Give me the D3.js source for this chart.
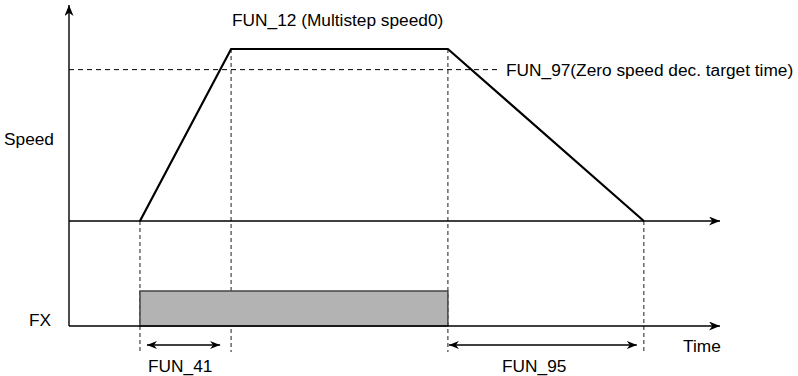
<!DOCTYPE html>
<html><head><meta charset="utf-8">
<script src="https://cdn.jsdelivr.net/npm/d3@7"></script>
<style>body{margin:0;background:#fff}svg{display:block}text{font-family:"Liberation Sans",Arial,sans-serif;font-size:17.3px;fill:#000}</style>
</head><body><svg id="c" width="798" height="376"></svg>
<script>
// Event times (arbitrary time units)
const eventNames = ["runStart", "accelEnd", "runStop", "stopEnd"];
const eventTimes = [1.09, 2.49, 5.82, 8.83];
// Speed profile (time, speed ratio)
const profileTimes = [1.09, 2.49, 5.82, 8.83];
const profileSpeeds = [0, 1, 1, 0];
const zeroSpeedLevel = 0.88;
// FX signal (on interval)
const fxOn = [1.09, 5.82];
const fxLevel = 1;
const labels = {
  title: "FUN_12 (Multistep speed0)",
  dashed: "FUN_97(Zero speed dec. target time)",
  speed: "Speed", fx: "FX", time: "Time",
  acc: "FUN_41", dec: "FUN_95"
};

const svg = d3.select("#c");
const x = d3.scaleLinear().domain([0, 10]).range([69, 720]);
const y = d3.scaleLinear().domain([0, 1]).range([221, 49]);
const yFx = d3.scaleLinear().domain([0, 1]).range([326, 291]);

const defs = svg.append("defs");
function marker(id, len, half) {
  defs.append("marker").attr("id", id).attr("viewBox", `${-len} ${-half} ${len} ${half*2}`)
    .attr("refX", 0).attr("refY", 0).attr("markerWidth", len).attr("markerHeight", half*2)
    .attr("markerUnits", "userSpaceOnUse").attr("orient", "auto-start-reverse")
    .append("path").attr("d", `M0,0 L${-len},${-half} L${-len*0.7},0 L${-len},${half} Z`).attr("fill", "#000");
}
marker("ah", 11, 4.5);
marker("ahs", 10, 4);

// vertical dashed guide lines
const guideTop = [y(0), y(1), y(1), y(0)];
svg.append("g").selectAll("line").data(eventTimes).join("line")
  .attr("x1", d => x(d)).attr("x2", d => x(d))
  .attr("y1", (d, i) => guideTop[i]).attr("y2", 352)
  .attr("stroke", "#444").attr("stroke-width", 1.2).attr("stroke-dasharray", "4,3");

// zero-speed dashed level
svg.append("line").attr("x1", x(0)).attr("x2", 499).attr("y1", y(zeroSpeedLevel)).attr("y2", y(zeroSpeedLevel))
  .attr("stroke", "#000").attr("stroke-width", 1).attr("stroke-dasharray", "5,4");
svg.append("text").attr("x", 506).attr("y", y(zeroSpeedLevel) + 6).text(labels.dashed);

// FX bar
svg.append("rect").attr("x", x(fxOn[0])).attr("width", x(fxOn[1]) - x(fxOn[0]))
  .attr("y", yFx(fxLevel)).attr("height", yFx(0) - yFx(fxLevel))
  .attr("fill", "#b3b3b3").attr("stroke", "#444").attr("stroke-width", 1.5);

// axes
svg.append("line").attr("x1", x(0)).attr("x2", x(0)).attr("y1", yFx(0)).attr("y2", 5)
  .attr("stroke", "#000").attr("stroke-width", 1.4).attr("marker-end", "url(#ah)");
svg.append("line").attr("x1", x(0)).attr("x2", x(10)).attr("y1", y(0)).attr("y2", y(0))
  .attr("stroke", "#000").attr("stroke-width", 1.4).attr("marker-end", "url(#ah)");
svg.append("line").attr("x1", x(0)).attr("x2", x(10)).attr("y1", yFx(0)).attr("y2", yFx(0))
  .attr("stroke", "#000").attr("stroke-width", 1.4).attr("marker-end", "url(#ah)");

// speed profile
const prof = profileTimes.map((t, i) => [t, profileSpeeds[i]]);
svg.append("path").datum(prof)
  .attr("d", d3.line().x(d => x(d[0])).y(d => y(d[1])))
  .attr("fill", "none").attr("stroke", "#000").attr("stroke-width", 2.2).attr("stroke-linejoin", "miter");

// duration arrows
const arrowY = 345;
svg.append("line").attr("x1", x(eventTimes[0]) + 7).attr("x2", x(eventTimes[1]) - 11)
  .attr("y1", arrowY).attr("y2", arrowY).attr("stroke", "#000").attr("stroke-width", 1.4)
  .attr("marker-start", "url(#ahs)").attr("marker-end", "url(#ahs)");
svg.append("line").attr("x1", x(eventTimes[2]) + 1).attr("x2", x(eventTimes[3]) - 7)
  .attr("y1", arrowY).attr("y2", arrowY).attr("stroke", "#000").attr("stroke-width", 1.4)
  .attr("marker-start", "url(#ahs)").attr("marker-end", "url(#ahs)");

// labels
svg.append("text").attr("x", 232).attr("y", 26).text(labels.title);
svg.append("text").attr("x", 4).attr("y", 145).text(labels.speed);
svg.append("text").attr("x", 29).attr("y", 326).text(labels.fx);
svg.append("text").attr("x", 683).attr("y", 352).text(labels.time);
svg.append("text").attr("x", 148).attr("y", 372).text(labels.acc);
svg.append("text").attr("x", 502).attr("y", 372).text(labels.dec);
</script></body></html>
